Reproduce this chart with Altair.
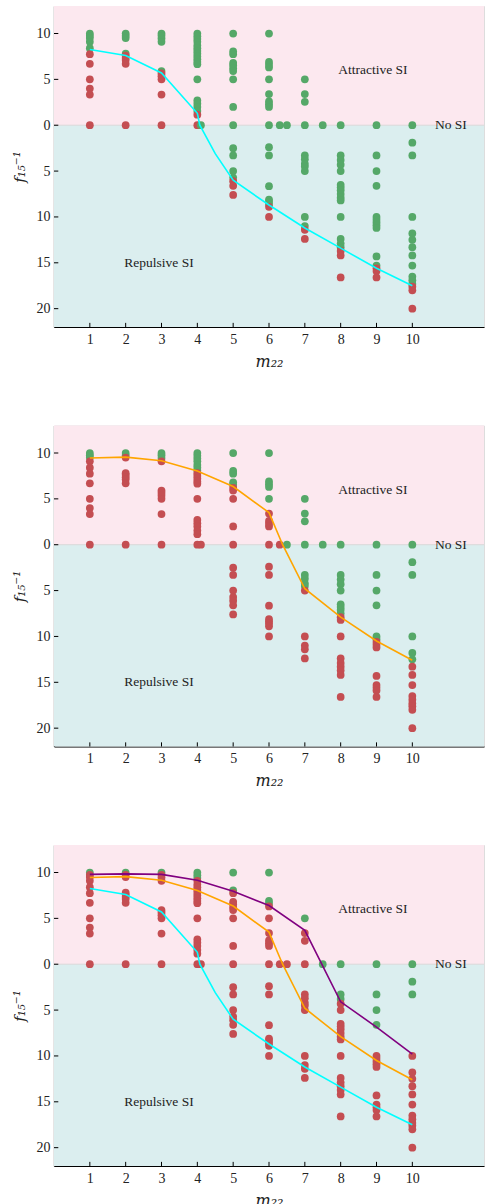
import altair as alt
import pandas as pd
import numpy as np

# ---- point values per column (m22 -> f15^-1, negative = repulsive side)
col_x = [1, 2, 3, 4, 5, 6, 7, 8, 9, 10]
col_values = [
    [10, 9.75, 9.5, 9.1, 8.4, 7.75, 6.7, 5.0, 4.0, 3.35, 0],
    [10, 9.75, 9.5, 7.8, 7.6, 7.35, 7.1, 6.7, 0],
    [10, 9.75, 9.45, 9.1, 5.9, 5.65, 5.35, 5.0, 3.35, 0],
    [10, 9.7, 9.4, 9.1, 8.7, 8.4, 8.1, 7.8, 7.5, 7.2, 6.9, 6.65, 5.0, 2.7, 2.35, 2.0, 1.55, 1.15, 0],
    [10, 8.05, 7.75, 6.8, 6.55, 6.2, 5.9, 5.0, 2.0, 0, -2.5, -3.3, -5.0, -5.7, -6.1, -6.6, -7.6],
    [10, 6.9, 6.6, 6.3, 5.0, 3.4, 2.6, 2.3, 2.0, 0, -2.4, -3.3, -6.65, -8.1, -8.35, -8.6, -8.9, -10.0],
    [5.0, 3.4, 2.55, 0, -3.3, -3.7, -4.2, -4.5, -5.0, -10.0, -11.0, -11.4, -12.4],
    [0, -3.3, -3.8, -4.3, -5.0, -6.5, -6.8, -7.1, -7.5, -7.9, -8.2, -10.0, -12.4, -12.9, -13.3, -13.7, -14.2, -16.6],
    [0, -3.3, -5.0, -6.6, -10.0, -10.3, -10.6, -10.9, -11.2, -14.3, -15.3, -15.6, -15.9, -16.6],
    [0, -1.9, -3.3, -10.0, -11.8, -12.5, -13.3, -14.2, -15.3, -16.5, -16.9, -17.3, -17.6, -18.0, -20.0],
]
# extra points on the f^-1 = 0 line between columns
zero_x = [4.1, 6.3, 6.5, 7.5]
zero_y = [0, 0, 0, 0]

# ---- boundary curves
cyan_x = [1, 2, 3, 4, 4.07, 4.5, 5, 6, 7, 8, 9, 10]
cyan_y = [8.25, 7.6, 5.7, 1.3, 0, -3.1, -6.0, -8.7, -11.2, -13.4, -15.6, -17.5]
orange_x = [1, 2, 3, 4, 5, 6, 6.38, 7, 8, 9, 10]
orange_y = [9.45, 9.55, 9.15, 8.05, 6.35, 3.5, 0, -4.8, -7.9, -10.5, -12.6]
purple_x = [1, 2, 3, 4, 5, 6, 7, 8, 9, 10]
purple_y = [9.8, 9.85, 9.8, 9.15, 7.95, 6.4, 3.7, -4.1, -6.85, -9.8]

x_ticks = [1, 2, 3, 4, 5, 6, 7, 8, 9, 10]
y_ticks = [10, 5, 0, -5, -10, -15, -20]

GREEN = "#55a868"
RED = "#c44e52"
PINK = "#fce8ef"
TEAL = "#dbeeef"
FONT = "Liberation Serif"
TFONT = "DejaVu Serif"

X_DOM = [0, 12]
Y_DOM = [-22, 13]

px, py = [], []
for cx, vals in zip(col_x, col_values):
    for v in vals:
        px.append(cx)
        py.append(v)
px += zero_x
py += zero_y
points = pd.DataFrame({"m22": px, "f": py})


def line_df(xs, ys):
    return pd.DataFrame({"m22": xs, "f": ys})


def panel(curves, ref_x, ref_y):
    lim = np.interp(points["m22"], ref_x, ref_y)
    d = points.copy()
    d["ok"] = np.where(d["f"] > lim, "allowed", "excluded")

    xs = alt.Scale(domain=X_DOM, nice=False, zero=False)
    ys = alt.Scale(domain=Y_DOM, nice=False, zero=False)

    bg = pd.DataFrame({"y0": [0, Y_DOM[0]], "y1": [Y_DOM[1], 0], "c": [PINK, TEAL]})
    bands = alt.Chart(bg).mark_rect(stroke=None).encode(
        x=alt.value(0), x2=alt.value(430),
        y=alt.Y("y0:Q", scale=ys,
                axis=alt.Axis(values=y_ticks, labelExpr="abs(datum.value)",
                              title="f₁₅⁻¹", titleFont=TFONT, titleFontStyle="italic",
                              titleFontSize=15, titleFontWeight="normal", titleColor="#222",
                              labelFont=FONT, labelFontSize=14, labelColor="#222",
                              tickSize=0, labelPadding=4, titlePadding=9,
                              domainColor="black", domainWidth=1.2, grid=False)),
        y2="y1:Q",
        color=alt.Color("c:N", scale=None),
    )
    zero_line = alt.Chart(pd.DataFrame({"f": [0]})).mark_rule(color="#d8d8d8", strokeWidth=1).encode(
        y=alt.Y("f:Q", scale=ys))

    pts = alt.Chart(d).mark_circle(size=60, opacity=1).encode(
        x=alt.X("m22:Q", scale=xs,
                axis=alt.Axis(values=x_ticks, title="m₂₂", titleFont=TFONT,
                              titleFontStyle="italic", titleFontSize=16, titleColor="#222",
                              titleFontWeight="normal", labelFont=FONT,
                              labelFontSize=14, labelColor="#222", tickSize=0,
                              labelPadding=5, titlePadding=7, domainColor="black",
                              domainWidth=1.2, grid=False, labelFlush=False)),
        y=alt.Y("f:Q", scale=ys),
        color=alt.Color("ok:N", scale=alt.Scale(domain=["allowed", "excluded"],
                                                 range=[GREEN, RED]), legend=None),
    )
    layers = [bands, zero_line, pts]
    for (lx, ly, col) in curves:
        layers.append(alt.Chart(line_df(lx, ly)).mark_line(color=col, strokeWidth=1.6).encode(
            x=alt.X("m22:Q", scale=xs), y=alt.Y("f:Q", scale=ys)))

    xt = pd.DataFrame({"m22": x_ticks, "y0": [Y_DOM[0]] * len(x_ticks),
                       "y1": [Y_DOM[0] + 0.45] * len(x_ticks)})
    layers.append(alt.Chart(xt).mark_rule(color="black", strokeWidth=1).encode(
        x=alt.X("m22:Q", scale=xs), y=alt.Y("y0:Q", scale=ys), y2="y1:Q"))
    yt = pd.DataFrame({"f": y_ticks, "x0": [0] * len(y_ticks), "x1": [0.12] * len(y_ticks)})
    layers.append(alt.Chart(yt).mark_rule(color="black", strokeWidth=1).encode(
        y=alt.Y("f:Q", scale=ys), x=alt.X("x0:Q", scale=xs), x2="x1:Q"))

    lab = pd.DataFrame({"m22": [8.9, 10.63, 2.93], "f": [6.0, 0, -15.0],
                        "t": ["Attractive SI", "No SI", "Repulsive SI"],
                        "a": ["center", "left", "center"]})
    for a in ["center", "left"]:
        layers.append(alt.Chart(lab[lab["a"] == a]).mark_text(
            font=FONT, fontSize=13.5, color="#222", align=a, baseline="middle").encode(
            x=alt.X("m22:Q", scale=xs), y=alt.Y("f:Q", scale=ys), text="t:N"))

    return alt.layer(*layers).properties(width=430, height=321)


p1 = panel([(cyan_x, cyan_y, "#00ffff")], cyan_x, cyan_y)
p2 = panel([(orange_x, orange_y, "#ffa500")], orange_x, orange_y)
p3 = panel([(cyan_x, cyan_y, "#00ffff"), (orange_x, orange_y, "#ffa500"),
            (purple_x, purple_y, "#800080")], purple_x, purple_y)

chart = alt.vconcat(p1, p2, p3, spacing=98.5, bounds="flush").properties(
    padding={"left": 11, "top": 5, "right": 0, "bottom": 0}
).configure_view(stroke="#444", strokeWidth=1).configure(background="white")

chart.save("out.html", embed_options={"renderer": "svg", "actions": False})
